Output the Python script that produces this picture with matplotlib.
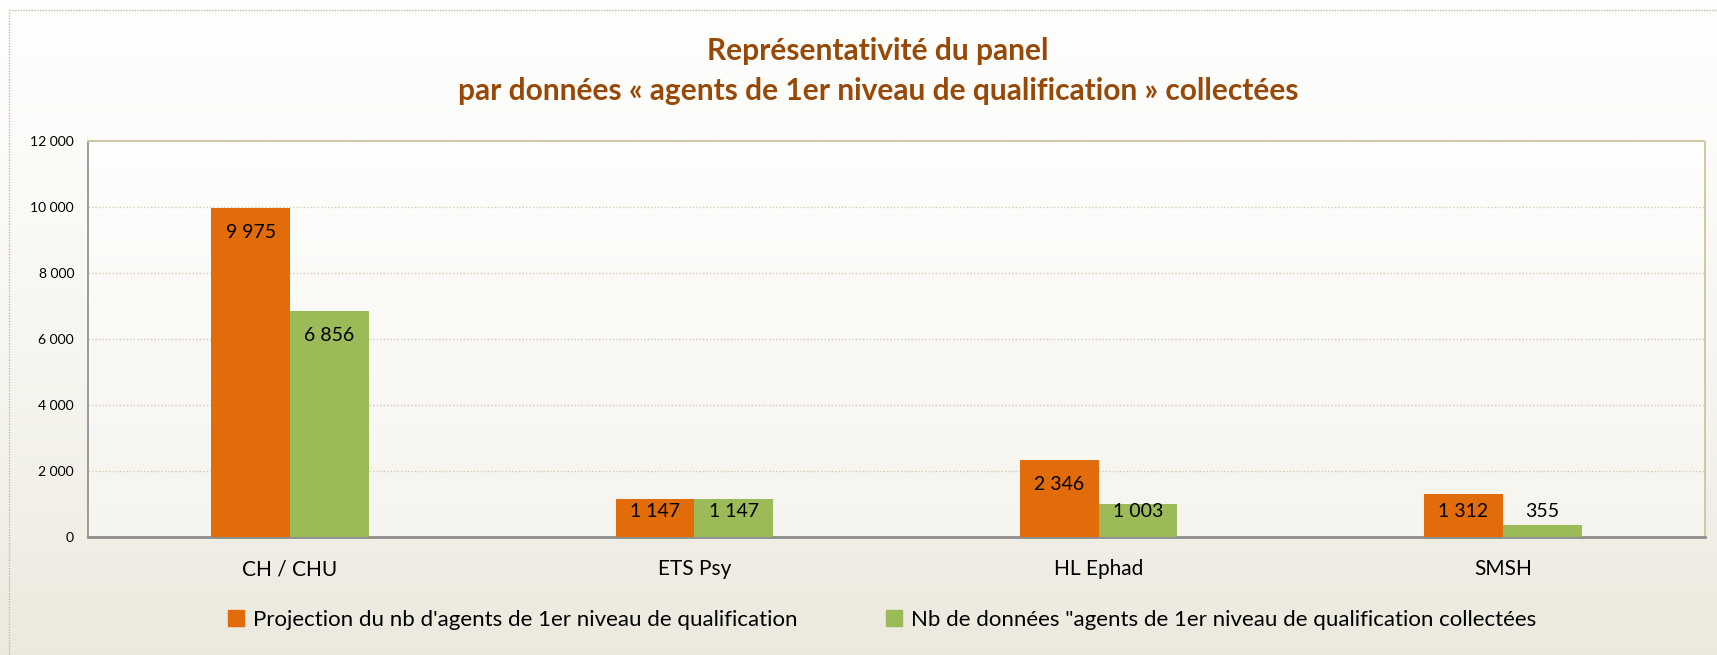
import numpy as np
import matplotlib
matplotlib.use("Agg")
import matplotlib.pyplot as plt
from matplotlib.ticker import FuncFormatter, MultipleLocator
from matplotlib.patches import Patch
from matplotlib.lines import Line2D

plt.rcParams['font.family'] = ['Lato', 'DejaVu Sans']

categories = ["CH / CHU", "ETS Psy", "HL Ephad", "SMSH"]
projection = [9975, 1147, 2346, 1312]
collectees = [6856, 1147, 1003, 355]
labels_series = ["Projection du nb d'agents de 1er niveau de qualification",
                 "Nb de données \"agents de 1er niveau de qualification collectées"]

orange = "#E36C0A"
green = "#9BBB59"
title_col = "#984807"

W, H = 1717, 655
fig = plt.figure(figsize=(W / 100, H / 100), dpi=100)

# background gradient
bg = fig.add_axes([0, 0, 1, 1], zorder=-10)
grad = np.linspace(0, 1, 256).reshape(-1, 1)
top_c = np.array([0.995, 0.995, 0.99])
bot_c = np.array([0.925, 0.915, 0.87])
img = top_c + (bot_c - top_c) * grad[:, :, None] ** 1.4
bg.imshow(img, aspect="auto", extent=[0, 1, 0, 1], origin="upper")
bg.set_xlim(0, 1)
bg.set_ylim(0, 1)
bg.axis("off")
# outer dashed frame
bg.add_line(Line2D([9 / W, 9 / W], [0, 1 - 10 / H], color="#C9B8B0", lw=1, ls=(0, (1, 1))))
bg.add_line(Line2D([9 / W, 1], [1 - 10 / H, 1 - 10 / H], color="#C9B8B0", lw=1, ls=(0, (1, 1))))

ax = fig.add_axes([88 / W, 1 - 537 / H, (1705 - 88) / W, (537 - 141) / H])
ax.patch.set_alpha(0)
# plot area fill
pa_grad = np.linspace(0, 1, 256).reshape(-1, 1)
pa_top = np.array([0.995, 0.995, 0.99])
pa_bot = np.array([0.965, 0.958, 0.935])
pa_img = pa_top + (pa_bot - pa_top) * pa_grad[:, :, None]
ax.imshow(pa_img, aspect="auto", extent=[-0.5, 3.5, 0, 12000], origin="upper", zorder=0)

x = np.arange(len(categories))
bw = 0.195
ax.bar(x - bw / 2, projection, bw, color=orange, zorder=3, label=labels_series[0])
ax.bar(x + bw / 2, collectees, bw, color=green, zorder=3, label=labels_series[1])

fmt = lambda v: f"{int(v):,}".replace(",", " ")
off = 760
for xs, vals in ((x - bw / 2, projection), (x + bw / 2, collectees)):
    for xi, v in zip(xs, vals):
        y = max(v - off, off)
        ax.text(xi, y, fmt(v), ha="center", va="center", fontsize=14, color="black", zorder=5)

ax.set_xlim(-0.5, 3.5)
ax.set_ylim(0, 12000)
ax.yaxis.set_major_locator(MultipleLocator(2000))
ax.yaxis.set_major_formatter(FuncFormatter(lambda v, p: fmt(v)))
ax.grid(axis="y", color="#D2CBB2", lw=1, ls=(0, (1, 1.5)), zorder=1)
ax.set_axisbelow(True)
ax.set_xticks(x)
ax.set_xticklabels(categories, fontsize=15)
ax.tick_params(axis="x", length=0, pad=16)
ax.tick_params(axis="y", length=0, labelsize=10, pad=10)

for s in ("top", "right"):
    ax.spines[s].set_color("#CFC7A8")
    ax.spines[s].set_linestyle((0, (1, 1)))
    ax.spines[s].set_linewidth(1.4)
ax.spines["left"].set_color("#8C8C8C")
ax.spines["left"].set_linewidth(1.2)
ax.spines["bottom"].set_color("#8C8C8C")
ax.spines["bottom"].set_linewidth(2)

fig.text(878 / W, 1 - 51 / H, "Représentativité du panel", ha="center", va="center",
         fontsize=21.5, fontweight="bold", color=title_col)
fig.text(878 / W, 1 - 91 / H, "par données « agents de 1er niveau de qualification » collectées",
         ha="center", va="center", fontsize=21.5, fontweight="bold", color=title_col)

handles = [Patch(color=orange), Patch(color=green)]
fig.legend(handles, labels_series, loc="center", bbox_to_anchor=(882 / W, 1 - 620 / H),
           ncol=2, frameon=False, fontsize=16, handlelength=0.7, handleheight=0.7,
           handletextpad=0.4, columnspacing=4.0)

fig.savefig("out.png", dpi=100)
